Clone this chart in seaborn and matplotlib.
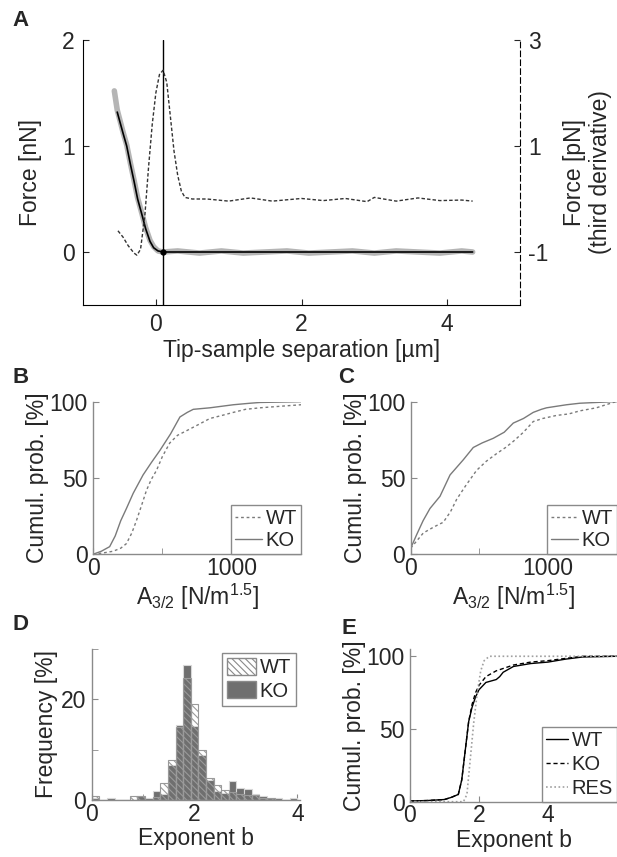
import numpy as np
import pandas as pd
import matplotlib
matplotlib.use("Agg")
import matplotlib.pyplot as plt
from matplotlib.patches import Patch
import seaborn as sns

# ---- data ----
# A: force curve (left axis, nN) and third derivative (right axis, pN)
sep_raw = [-0.57, -0.53, -0.45, -0.40, -0.35, -0.30, -0.25, -0.19, -0.14, -0.08, -0.03, 0.03, 0.10,
           0.3, 0.6, 0.9, 1.2, 1.5, 1.8, 2.1, 2.4, 2.7, 3.0, 3.3, 3.6, 3.9, 4.2, 4.35]
force_raw = [1.52, 1.34, 1.13, 1.01, 0.84, 0.68, 0.51, 0.36, 0.23, 0.11, 0.05, 0.01, 0.0,
             0.01, -0.01, 0.01, -0.01, 0.0, 0.01, -0.01, 0.0, 0.01, -0.01, 0.01, 0.0, -0.01, 0.01, 0.0]
sep_fit = [-0.53, -0.45, -0.40, -0.35, -0.30, -0.25, -0.19, -0.14, -0.08, -0.03, 0.03, 0.10, 0.5, 1.0, 2.0, 3.0, 4.35]
force_fit = [1.32, 1.12, 1.0, 0.83, 0.67, 0.50, 0.35, 0.22, 0.10, 0.04, 0.01, 0.0, 0.0, 0.0, 0.0, 0.0, 0.0]
sep_d3 = [-0.52, -0.45, -0.38, -0.30, -0.26, -0.21, -0.15, -0.10, -0.05, 0.0, 0.05, 0.10, 0.15, 0.20,
          0.25, 0.30, 0.35, 0.40, 0.5, 0.7, 1.0, 1.3, 1.6, 2.0, 2.3, 2.6, 2.9, 3.0, 3.3, 3.6, 3.9, 4.2, 4.35]
force_d3 = [-0.6, -0.72, -0.88, -1.02, -1.06, -0.95, -0.3, 0.6, 1.4, 2.0, 2.35, 2.43, 2.2, 1.55,
            0.9, 0.45, 0.15, 0.03, 0.0, 0.0, -0.04, 0.02, -0.04, 0.01, -0.03, 0.01, -0.05, 0.03, -0.04, 0.02, -0.03, -0.02, -0.04]
contact_point = 0.1

# B: cumulative probability of A3/2
b_ko_x = [0, 60, 120, 160, 200, 241, 290, 361, 420, 482, 560, 627, 680, 723, 843, 1012, 1133, 1205, 1500]
b_ko_y = [0, 2, 5, 12, 22, 30, 40, 52, 60, 68, 79, 90, 93, 95, 96, 98, 99, 99.5, 100]
b_wt_x = [0, 80, 145, 200, 241, 280, 313, 350, 386, 420, 458, 500, 554, 610, 675, 760, 843, 930, 1012, 1100, 1205, 1350, 1500]
b_wt_y = [0, 1, 2, 4, 7, 14, 22, 32, 42, 49, 55, 64, 73, 78, 81, 85, 89, 91, 93, 95, 96, 97, 98]

# C: cumulative probability of A3/2
c_ko_x = [0, 44, 90, 140, 213, 286, 383, 455, 520, 600, 680, 746, 820, 891, 950, 988, 1060, 1133, 1230, 1470, 1500]
c_ko_y = [4, 13, 22, 30, 38, 52, 62, 70, 73, 76, 80, 86, 89, 93, 95, 96, 97, 98, 99, 100, 100]
c_wt_x = [0, 92, 170, 237, 290, 334, 400, 479, 550, 625, 690, 746, 820, 891, 960, 1060, 1150, 1230, 1350, 1472, 1500]
c_wt_y = [4, 14, 18, 21, 28, 36, 45, 55, 61, 66, 70, 74, 80, 87, 89, 91, 92, 94, 96, 99.5, 100]

# D: histogram of exponent b (27 bins over 0..4), heights in %
bin_edges = list(np.linspace(0, 4, 28))
d_ko = [0.3, 0.0, 0.4, 0.0, 0.0, 0.0, 0.7, 0.3, 1.7, 1.1, 7.0, 15.0, 26.8, 14.8, 9.0, 4.0, 1.8, 1.3,
        3.7, 2.4, 2.2, 1.1, 0.8, 0.4, 0.3, 0.0, 0.4]
d_wt = [0.7, 0.0, 0.0, 0.0, 0.0, 0.8, 0.7, 0.0, 0.5, 3.4, 8.0, 14.5, 24.2, 19.0, 10.0, 4.3, 3.0, 2.0,
        1.5, 1.2, 1.0, 0.9, 0.4, 0.3, 0.0, 0.0, 0.0]

# E: cumulative probability of exponent b
e_wt_x = [0, 0.5, 1.0, 1.2, 1.4, 1.5, 1.6, 1.7, 1.8, 1.9, 2.0, 2.2, 2.5, 2.6, 2.7, 3.0, 3.5, 4.0, 4.5, 5.0, 6.0]
e_wt_y = [0.5, 0.8, 1.5, 3, 5, 15, 35, 55, 65, 72, 77, 82, 84, 86, 89, 93, 95, 96, 98, 99.5, 100]
e_ko_x = [0, 0.5, 1.0, 1.2, 1.4, 1.5, 1.6, 1.7, 1.8, 1.9, 2.0, 2.2, 2.5, 3.0, 3.5, 4.0, 4.5, 5.0, 6.0]
e_ko_y = [0.5, 0.8, 1.5, 3, 5, 15, 35, 55, 67, 75, 80, 86, 90, 94, 96, 97, 98.5, 100, 100]
e_res_x = [0, 1.55, 1.65, 1.75, 1.85, 1.95, 2.05, 2.15, 2.3, 6.0]
e_res_y = [0, 0, 5, 30, 55, 75, 90, 97, 100, 100]

# ---- style ----
sns.set_style("ticks")
plt.rcParams["font.family"] = ["Liberation Sans", "DejaVu Sans"]
plt.rcParams["mathtext.default"] = "regular"
plt.rcParams["axes.unicode_minus"] = False
plt.rcParams["hatch.linewidth"] = 0.8
FS = 16.5
GRAY = "#8a8a8a"

fig = plt.figure(figsize=(6.17, 8.57), dpi=100)
W, H = 617, 857


def axes_px(left, top, right, bottom):
    return fig.add_axes([left / W, 1 - bottom / H, (right - left) / W, (bottom - top) / H])


def style_small(ax, color=GRAY):
    sns.despine(ax=ax)
    for s in ("left", "bottom"):
        ax.spines[s].set_color(color)
        ax.spines[s].set_linewidth(1.0)
    ax.tick_params(direction="in", length=4, color=color, labelsize=FS, which="both")
    ax.tick_params(axis="x", pad=2, which="both")
    ax.tick_params(axis="y", pad=4, which="both")


# ---- A ----
axA = axes_px(83, 40, 520, 305)
sns.lineplot(x=sep_raw, y=force_raw, ax=axA, color="#b5b5b5", lw=4, sort=False, estimator=None)
sns.lineplot(x=sep_fit, y=force_fit, ax=axA, color="black", lw=1.2, sort=False, estimator=None)
axA.axvline(contact_point, color="black", lw=1)
axA.plot([contact_point], [0], "o", color="black", ms=3.5)
axA.set_xlim(-1, 5)
axA.set_ylim(-0.5, 2)
axA.set_xticks([0, 2, 4])
axA.set_yticks([0, 1, 2])
axA.spines["top"].set_visible(False)
axA.spines["right"].set_visible(False)
for s in ("left", "bottom"):
    axA.spines[s].set_color("black")
axA.tick_params(direction="in", length=4, labelsize=FS, pad=6)
axA.set_xlabel("Tip-sample separation [µm]", fontsize=FS, labelpad=2)
axA.set_ylabel("Force [nN]", fontsize=FS, labelpad=14)

axA2 = axA.twinx()
sns.lineplot(x=sep_d3, y=force_d3, ax=axA2, color="#333333", lw=1, sort=False, estimator=None)
axA2.lines[-1].set_dashes((2.5, 1.5))
axA2.set_ylim(-2, 3)
axA2.set_yticks([-1, 1, 3])
axA2.spines["top"].set_visible(False)
axA2.spines["left"].set_visible(False)
axA2.spines["bottom"].set_visible(False)
axA2.spines["right"].set_linestyle((0, (5, 3)))
axA2.spines["right"].set_color("black")
axA2.tick_params(direction="in", length=4, labelsize=FS, pad=6)
axA2.set_ylabel("Force [pN]\n(third derivative)", fontsize=FS, labelpad=10)

# ---- B and C ----
for left, right, label, ko_x, ko_y, wt_x, wt_y in [
    (93, 301, "B", b_ko_x, b_ko_y, b_wt_x, b_wt_y),
    (410.7, 617, "C", c_ko_x, c_ko_y, c_wt_x, c_wt_y),
]:
    ax = axes_px(left, 401.7, right, 554.3)
    sns.lineplot(x=wt_x, y=wt_y, ax=ax, color="#7a7a7a", lw=1, ls=(0, (2, 2)), label="WT", estimator=None)
    sns.lineplot(x=ko_x, y=ko_y, ax=ax, color="#7a7a7a", lw=1, label="KO", estimator=None)
    ax.set_xlim(0, 1500)
    ax.set_ylim(0, 100)
    ax.set_xticks([0, 1000])
    ax.set_xticks([500, 1500], minor=True)
    ax.set_yticks([0, 50, 100])
    style_small(ax)
    ax.set_xlabel(r"A$_{3/2}$ [N/m$^{1.5}$]", fontsize=FS, labelpad=1)
    ax.set_ylabel("Cumul. prob. [%]", fontsize=FS, labelpad=0)
    leg = ax.legend(loc="lower right", fontsize=14.5, frameon=True, fancybox=False, framealpha=1,
                    edgecolor=GRAY, handlelength=1.3, handletextpad=0.2, borderpad=0.2,
                    labelspacing=0.15, borderaxespad=0.0)
    leg.get_frame().set_linewidth(1.0)

# ---- D ----
axD = axes_px(91.7, 649, 300, 800)
centers = [(a + b) / 2 for a, b in zip(bin_edges[:-1], bin_edges[1:])]
hist_df = pd.DataFrame({"b": centers, "KO": d_ko, "WT": d_wt})
sns.histplot(data=hist_df, x="b", weights="KO", bins=bin_edges, ax=axD, color="#6f6f6f", alpha=1,
             edgecolor="#d8d8d8", linewidth=0.8)
n_ko = len(axD.patches)
sns.histplot(data=hist_df, x="b", weights="WT", bins=bin_edges, ax=axD, fill=False,
             color="#9a9a9a", linewidth=0.8)
for p in axD.patches[n_ko:]:
    p.set_hatch("\\\\\\\\\\")
    p.set_edgecolor("#9a9a9a")
axD.set_xlim(0, 4.05)
axD.set_ylim(0, 30)
axD.set_xticks([0, 2, 4])
axD.set_xticks([1, 3], minor=True)
axD.set_yticks([0, 20])
axD.set_yticks([10, 30], minor=True)
style_small(axD)
axD.set_xlabel("Exponent b", fontsize=FS, labelpad=1)
axD.set_ylabel("Frequency [%]", fontsize=FS, labelpad=2)
handles = [Patch(facecolor="white", edgecolor="#8a8a8a", hatch="\\\\\\\\\\"),
           Patch(facecolor="#6f6f6f", edgecolor="#8a8a8a")]
leg = axD.legend(handles, ["WT", "KO"], loc="upper right", fontsize=14.5, frameon=True, fancybox=False,
                 framealpha=1, edgecolor=GRAY, handlelength=1.4, handleheight=0.9, handletextpad=0.2,
                 borderpad=0.25, labelspacing=0.2, borderaxespad=0.2)

# ---- E ----
axE = axes_px(410, 649, 617, 801.7)
sns.lineplot(x=e_wt_x, y=e_wt_y, ax=axE, color="black", lw=1, label="WT", estimator=None)
sns.lineplot(x=e_ko_x, y=e_ko_y, ax=axE, color="black", lw=1, ls=(0, (3, 2)), label="KO", estimator=None)
sns.lineplot(x=e_res_x, y=e_res_y, ax=axE, color="#a0a0a0", lw=1.2, ls=(0, (1, 1.5)), label="RES", estimator=None)
axE.set_xlim(0, 6)
axE.set_ylim(0, 105)
axE.set_xticks([0, 2, 4])
axE.set_yticks([0, 50, 100])
style_small(axE)
axE.set_xlabel("Exponent b", fontsize=FS, labelpad=1)
axE.set_ylabel("Cumul. prob. [%]", fontsize=FS, labelpad=0)
leg = axE.legend(loc="lower right", fontsize=14.5, frameon=True, fancybox=False, framealpha=1,
                 edgecolor=GRAY, handlelength=1.1, handletextpad=0.2, borderpad=0.2,
                 labelspacing=0.25, borderaxespad=0.0)

# panel letters
for txt, x, y in [("A", 12, 20), ("B", 12, 378), ("C", 338, 378), ("D", 12, 625), ("E", 342, 628)]:
    fig.text(x / W, 1 - y / H, txt, fontsize=16, fontweight="bold", va="center", ha="left")

fig.savefig("out.png", dpi=100)
